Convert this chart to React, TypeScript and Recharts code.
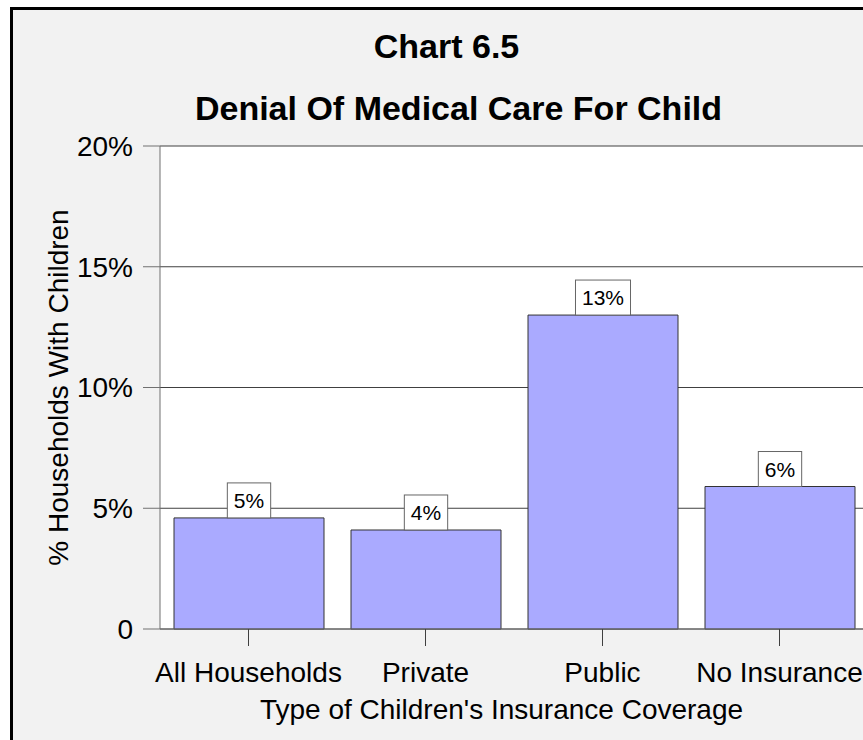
import React from "react";
import { BarChart, Bar, XAxis, YAxis, CartesianGrid, LabelList } from "recharts";

const categories = ["All Households", "Private", "Public", "No Insurance"];
const values = [4.6, 4.1, 13.0, 5.9];
const valueLabels = ["5%", "4%", "13%", "6%"];
const yTicks = [0, 5, 10, 15, 20];
const yTickLabels = ["0", "5%", "10%", "15%", "20%"];

const FONT = "'Liberation Sans', Arial, Helvetica, sans-serif";

const data = categories.map((c, i) => ({ name: c, value: values[i], label: valueLabels[i] }));

const textWidth = (s: string, fs: number) => {
  let w = 0;
  for (const ch of s) w += ch === "%" ? 0.889 : 0.556;
  return w * fs;
};

const ValueLabel = (props: any) => {
  const vb = props.viewBox || props;
  const x = Number(vb.x);
  const y = Number(vb.y);
  const width = Number(vb.width);
  const text = String(props.value);
  const fs = 21;
  const bw = textWidth(text, fs) + 13;
  const bh = 35;
  const cx = x + width / 2;
  return (
    <g>
      <rect x={cx - bw / 2} y={y - bh} width={bw} height={bh} fill="#ffffff" stroke="#666666" strokeWidth={1} />
      <text x={cx} y={y - 10} textAnchor="middle" fontSize={fs} fontFamily={FONT} fill="#000">
        {text}
      </text>
    </g>
  );
};

const XTick = (props: any) => {
  const { x, y, payload } = props;
  return (
    <text x={x} y={y} dy="0.71em" textAnchor="middle" fontSize={28} fontFamily={FONT} fill="#000">
      {payload.value}
    </text>
  );
};

const YTick = (props: any) => {
  const { x, y, payload } = props;
  const idx = yTicks.indexOf(payload.value);
  return (
    <text x={x} y={y} dy="0.355em" textAnchor="end" fontSize={28} fontFamily={FONT} fill="#000">
      {idx >= 0 ? yTickLabels[idx] : payload.value}
    </text>
  );
};

export default function App() {
  return (
    <div style={{ position: "fixed", left: 0, top: 0, width: 863, height: 740, overflow: "hidden", background: "#ffffff" }}>
      <div
        style={{
          position: "absolute",
          left: 10,
          top: 7,
          width: 900,
          height: 800,
          borderLeft: "3px solid #000",
          borderTop: "3px solid #000",
          background: "#f2f2f2",
        }}
      />
      <div style={{ position: "absolute", left: 0, top: 0 }}>
        <BarChart
          width={880}
          height={740}
          data={data}
          margin={{ top: 146, right: 12, left: 60, bottom: 51 }}
          barSize={150}
        >
          <CartesianGrid horizontal vertical={false} stroke="#404040" fill="#ffffff" />
          <XAxis
            dataKey="name"
            height={60}
            interval={0}
            tickSize={17}
            tickMargin={16}
            stroke="#707070"
            tick={<XTick />}
            tickLine={{ stroke: "#404040" }}
            axisLine={{ stroke: "#707070" }}
            label={{
              content: () => (
                <text x={501.5} y={719} textAnchor="middle" fontSize={28} fontFamily={FONT} fill="#000">
                  Type of Children's Insurance Coverage
                </text>
              ),
            }}
          />
          <YAxis
            width={100}
            domain={[0, 20]}
            ticks={yTicks}
            interval={0}
            tickSize={17}
            tickMargin={10}
            tick={<YTick />}
            tickLine={{ stroke: "#707070" }}
            axisLine={{ stroke: "#707070" }}
            label={{
              content: () => (
                <text
                  x={68}
                  y={387.5}
                  textAnchor="middle"
                  fontSize={28}
                  fontFamily={FONT}
                  fill="#000"
                  transform="rotate(-90, 68, 387.5)"
                >
                  % Households With Children
                </text>
              ),
            }}
          />
          <Bar dataKey="value" fill="#aaaaff" stroke="#333333" strokeWidth={1} isAnimationActive={false}>
            <LabelList dataKey="label" content={<ValueLabel />} />
          </Bar>
        </BarChart>
      </div>
      <svg
        width={863}
        height={740}
        style={{ position: "absolute", left: 0, top: 0, pointerEvents: "none" }}
      >
        <text x={446.5} y={58} textAnchor="middle" fontSize={34} fontWeight="bold" fontFamily={FONT} fill="#000">
          Chart 6.5
        </text>
        <text x={458.5} y={120} textAnchor="middle" fontSize={34} fontWeight="bold" fontFamily={FONT} fill="#000">
          Denial Of Medical Care For Child
        </text>
      </svg>
    </div>
  );
}
